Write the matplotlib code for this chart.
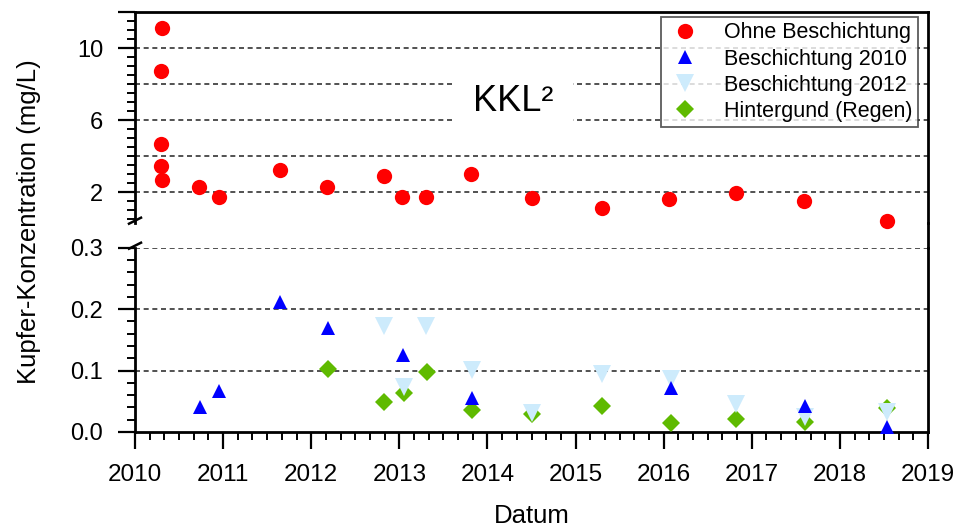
import matplotlib
matplotlib.use("Agg")
import matplotlib.pyplot as plt
from matplotlib.lines import Line2D
from matplotlib.ticker import MultipleLocator, FixedLocator, FormatStrFormatter

plt.rcParams["font.family"] = ["Liberation Sans", "DejaVu Sans"]

# ─── Data (Datum as decimal year, Kupfer in mg/L) ─────────────────────────────

OHNE_X = [2010.31, 2010.29, 2010.30, 2010.30, 2010.31, 2010.73, 2010.95,
          2011.65, 2012.18, 2012.83, 2013.03, 2013.30, 2013.81, 2014.51,
          2015.30, 2016.06, 2016.82, 2017.59, 2018.53]
OHNE_Y = [11.1, 8.7, 4.65, 3.45, 2.65, 2.26, 1.74,
          3.25, 2.3, 2.9, 1.74, 1.74, 3.03, 1.65,
          1.13, 1.6, 1.96, 1.52, 0.39]

B2010_X = [2010.74, 2010.95, 2011.65, 2012.19, 2013.04, 2013.82,
           2016.08, 2017.60, 2018.53]
B2010_Y = [0.041, 0.067, 0.211, 0.170, 0.125, 0.056,
           0.071, 0.043, 0.008]

B2012_X = [2012.83, 2013.05, 2013.30, 2013.82, 2014.51, 2015.30,
           2016.08, 2016.82, 2017.60, 2018.53]
B2012_Y = [0.173, 0.074, 0.173, 0.101, 0.031, 0.094,
           0.086, 0.046, 0.025, 0.033]

REGEN_X = [2012.19, 2012.83, 2013.05, 2013.31, 2013.83, 2014.51,
           2015.30, 2016.08, 2016.82, 2017.60, 2018.53]
REGEN_Y = [0.102, 0.049, 0.063, 0.098, 0.035, 0.030,
           0.043, 0.015, 0.021, 0.017, 0.039]

LABELS = ["Ohne Beschichtung", "Beschichtung 2010",
          "Beschichtung 2012", "Hintergund (Regen)"]

UPPER_GRID = [2, 4, 6, 8, 10]
LOWER_GRID = [0.1, 0.2, 0.3]

RED = "#ff0000"
BLUE = "#0000ff"
LIGHTBLUE = "#cdebfc"
GREEN = "#5fba00"

# ─── Figure with broken y-axis ───────────────────────────────────────────────

W, H = 961, 530
fig = plt.figure(figsize=(W / 100, H / 100), dpi=100)

left, right = 135 / W, 928 / W
up_top, up_bot = 1 - 12 / H, 1 - 222.7 / H
lo_top, lo_bot = 1 - 247.7 / H, 1 - 432 / H

ax_up = fig.add_axes([left, up_bot, right - left, up_top - up_bot])
ax_lo = fig.add_axes([left, lo_bot, right - left, lo_top - lo_bot])

ax_up.set_ylim(0.3, 12)
ax_lo.set_ylim(0.0, 0.3)
for ax in (ax_up, ax_lo):
    ax.set_xlim(2010, 2019)
    for s in ax.spines.values():
        s.set_linewidth(2)
    ax.tick_params(which="major", length=12, width=1.6, labelsize=17, pad=11)
    ax.tick_params(which="minor", length=5.5, width=1.4)

ax_up.spines["bottom"].set_visible(False)
ax_lo.spines["top"].set_visible(False)

# upper panel: no x ticks, sparse y labels
ax_up.tick_params(axis="x", which="both", bottom=False, labelbottom=False)
ax_up.yaxis.set_major_locator(FixedLocator([2, 6, 10, 12]))
ax_up.set_yticklabels(["2", "6", "10", ""])
ax_up.yaxis.set_minor_locator(MultipleLocator(0.5))

# lower panel
ax_lo.yaxis.set_major_locator(MultipleLocator(0.1))
ax_lo.yaxis.set_major_formatter(FormatStrFormatter("%.1f"))
ax_lo.yaxis.set_minor_locator(MultipleLocator(0.02))
ax_lo.xaxis.set_major_locator(MultipleLocator(1))
ax_lo.xaxis.set_minor_locator(MultipleLocator(1 / 6))
ax_lo.tick_params(axis="x", which="major", labelsize=17.5, pad=11)

grid_kw = dict(color="#333333", lw=1.2, ls=(0, (3, 2.2)), zorder=0.5)
for g in UPPER_GRID:
    ax_up.axhline(g, **grid_kw)
for g in LOWER_GRID:
    ax_lo.axhline(g, **grid_kw)

# markers
mk = dict(ls="none", clip_on=False, markeredgewidth=0)
h_ohne, = ax_up.plot(OHNE_X, OHNE_Y, "o", ms=11, color=RED, zorder=3, **mk)
h_regen, = ax_lo.plot(REGEN_X, REGEN_Y, "D", ms=9.5, color=GREEN, zorder=3, **mk)
h_b2012, = ax_lo.plot(B2012_X, B2012_Y, "v", ms=13, color=LIGHTBLUE, zorder=4, **mk)
h_b2010, = ax_lo.plot(B2010_X, B2010_Y, "^", ms=10, color=BLUE, zorder=5, **mk)

# site label
ax_up.text(0.4767, 0.575, "KKL²", transform=ax_up.transAxes, fontsize=26,
           ha="center", va="center", zorder=2,
           bbox=dict(boxstyle="square,pad=0.55", fc="white", ec="none"))

leg = ax_up.legend([h_ohne, h_b2010, h_b2012, h_regen], LABELS,
                   loc="upper right", bbox_to_anchor=(918 / W, 1 - 17 / H),
                   bbox_transform=fig.transFigure, borderaxespad=0,
                   fontsize=15.5, frameon=True, fancybox=False,
                   handletextpad=0.9, labelspacing=0.24, borderpad=0.25,
                   handlelength=1.8)
leg.get_frame().set_edgecolor("#333333")
leg.get_frame().set_linewidth(1.3)
leg.set_zorder(10)

# continuous right frame across the break
fig.add_artist(Line2D([right, right], [lo_top, up_bot], color="black", lw=2))

# break marks on the left axis
for yb in (up_bot + 2 / H, lo_top + 2 / H):
    fig.add_artist(Line2D([left - 6 / W, left + 6 / W], [yb - 3 / H, yb + 3 / H],
                          color="black", lw=1.8))

ax_lo.set_xlabel("Datum", fontsize=18.5, labelpad=13)
fig.text(29 / W, 1 - 222 / H, "Kupfer-Konzentration (mg/L)", rotation=90,
         fontsize=18.5, ha="center", va="center")

fig.savefig("out.png", dpi=100, facecolor="white")
